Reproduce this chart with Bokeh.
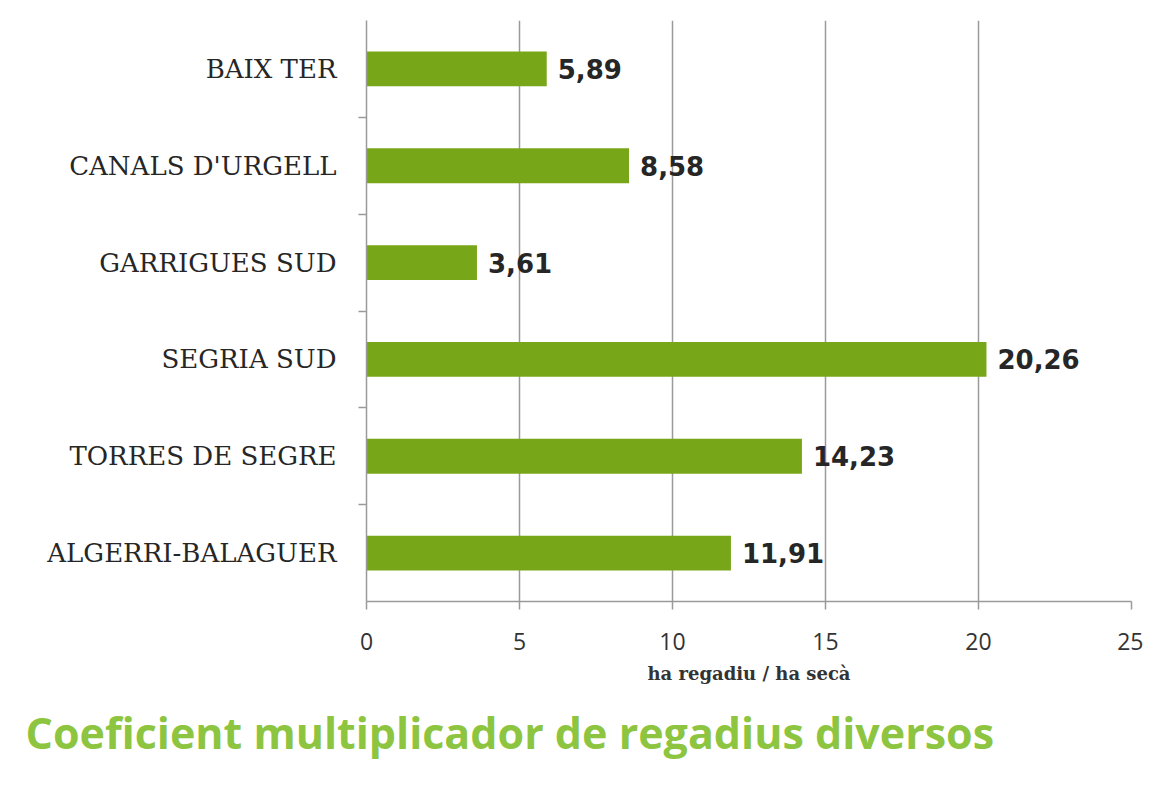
from bokeh.plotting import figure
from bokeh.models import ColumnDataSource, FixedTicker, Title, LabelSet
from bokeh.core.properties import value
from bokeh.embed import file_html
from bokeh.resources import INLINE

categories = ["BAIX TER", "CANALS D'URGELL", "GARRIGUES SUD", "SEGRIA SUD", "TORRES DE SEGRE", "ALGERRI-BALAGUER"]
values = [5.89, 8.58, 3.61, 20.26, 14.23, 11.91]
x_ticks = [0, 5, 10, 15, 20, 25]
title_text = "Coeficient multiplicador de regadius diversos"
x_label = "ha regadiu / ha secà"

n = len(categories)
ypos = [n - i - 0.5 for i in range(n)]
labels = [f"{v:.2f}".replace(".", ",") for v in values]
src = ColumnDataSource(dict(y=ypos, v=values, lab=labels, cat=categories))

p = figure(width=1143, height=776, x_range=(0, 25), y_range=(0, n),
           output_backend="svg", toolbar_location=None,
           min_border_left=366, min_border_right=12, min_border_top=20, min_border_bottom=175)
p.outline_line_color = None
p.background_fill_color = "white"

p.hbar(y="y", right="v", left=0, height=0.36, source=src, fill_color="#78a619", line_color=None)

p.add_layout(LabelSet(x="v", y="y", text="lab", source=src, x_offset=11, y_offset=0,
                      text_baseline="middle", text_font=value("DejaVu Sans"),
                      text_font_style="bold", text_font_size=value("26px"),
                      text_color="#262626"))

# x axis
p.xaxis.ticker = FixedTicker(ticks=x_ticks)
p.xaxis.axis_line_color = "#9a9a9a"
p.xaxis.axis_line_width = 1.5
p.xaxis.major_tick_line_color = "#9a9a9a"
p.xaxis.major_tick_line_width = 1.5
p.xaxis.major_tick_out = 8
p.xaxis.major_tick_in = 0
p.xaxis.minor_tick_line_color = None
p.xaxis.major_label_text_font = "Open Sans"
p.xaxis.major_label_text_font_size = "23px"
p.xaxis.major_label_text_color = "#333333"
p.xaxis.major_label_standoff = 23
p.xaxis.axis_label = x_label
p.xaxis.axis_label_text_font = "DejaVu Serif"
p.xaxis.axis_label_text_font_style = "bold"
p.xaxis.axis_label_text_font_size = "18px"
p.xaxis.axis_label_text_color = "#333333"
p.xaxis.axis_label_standoff = 10

# y axis
p.yaxis.ticker = FixedTicker(ticks=ypos, minor_ticks=[1, 2, 3, 4, 5])
p.yaxis.major_label_overrides = {y: c for y, c in zip(ypos, categories)}
p.yaxis.axis_line_color = "#9a9a9a"
p.yaxis.axis_line_width = 1.5
p.yaxis.major_tick_line_color = None
p.yaxis.minor_tick_line_color = "#9a9a9a"
p.yaxis.minor_tick_line_width = 1.5
p.yaxis.minor_tick_out = 8
p.yaxis.minor_tick_in = 0
p.yaxis.major_label_text_font = "DejaVu Serif"
p.yaxis.major_label_text_font_size = "26px"
p.yaxis.major_label_text_color = "#262626"
p.yaxis.major_label_standoff = 22

p.xgrid.ticker = FixedTicker(ticks=x_ticks)
p.xgrid.grid_line_color = "#9a9a9a"
p.xgrid.grid_line_width = 1.5
p.ygrid.grid_line_color = None

t = Title(text=title_text, align="left", offset=-341, text_font="Open Sans",
          text_font_size="43px", text_font_style="bold", text_color="#8dc540",
          standoff=28)
p.add_layout(t, "below")

open("out.html", "w").write(file_html(p, INLINE))
